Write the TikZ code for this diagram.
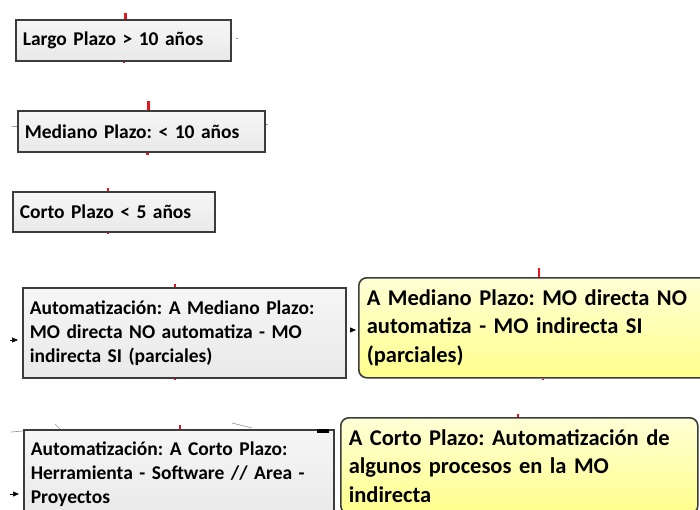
\documentclass[tikz,border=0pt]{standalone}
\usepackage{fontspec}
\setmainfont{Carlito}
\frenchspacing
\usetikzlibrary{arrows.meta}
\definecolor{boxline}{HTML}{3C3C3C}
\definecolor{grayfill}{HTML}{E9E9E9}
\definecolor{graytop}{HTML}{F6F6F6}
\definecolor{ytop}{HTML}{FFFFD6}
\definecolor{ybot}{HTML}{FFFF8C}
\definecolor{stubred}{HTML}{E8141C}
\tikzset{
  graybox/.style={draw=boxline, line width=1.6pt, top color=graytop, bottom color=grayfill,
    anchor=north west, align=left, inner xsep=7pt, inner ysep=0pt,
    font=\bfseries\fontsize{19.5}{24}\selectfont},
  yellowbox/.style={draw=boxline, line width=1.6pt, rounded corners=8pt, top color=ytop, bottom color=ybot,
    anchor=north west, align=left, inner xsep=8pt, inner ysep=0pt,
    font=\bfseries\fontsize{22.5}{28.5}\selectfont},
  stub/.style={draw=stubred, line width=3pt},
  faint/.style={draw=gray!80, line width=0.7pt},
  tip/.style={-{Triangle[length=6pt,width=5pt]}, line width=0.6pt, draw=black}
}
\begin{document}
\begin{tikzpicture}[x=1pt,y=-1pt]
\path[use as bounding box] (0,0) rectangle (700,510);
\clip (0,0) rectangle (700,510);
% gray boxes
\node[graybox, minimum width=215pt, minimum height=41pt, text width=201pt] (b1) at (15,19) {Largo Plazo > 10 años};
\node[graybox, minimum width=247pt, minimum height=41pt, text width=233pt] (b2) at (17,110) {Mediano Plazo: < 10 años};
\node[graybox, minimum width=202pt, minimum height=40pt, text width=188pt] (b3) at (12,191) {Corto Plazo < 5 años};
\node[graybox, minimum width=323pt, minimum height=90pt, text width=309pt] (b4) at (22,287) {Automatización: A Mediano Plazo:\\MO directa NO automatiza - MO\\indirecta SI (parciales)};
\node[graybox, minimum width=310pt, minimum height=88pt, text width=296pt] (b5) at (23,429) {Automatización: A Corto Plazo:\\Herramienta - Software // Area -\\Proyectos};
% yellow boxes
\node[yellowbox, minimum width=360pt, minimum height=100pt, text width=344pt] (y1) at (358,277) {A Mediano Plazo: MO directa NO\\automatiza - MO indirecta SI\\(parciales)};
\node[yellowbox, minimum width=357pt, minimum height=96pt, text width=341pt] (y2) at (340,417) {A Corto Plazo: Automatización de\\algunos procesos en la MO\\indirecta};
% connector stubs (red)
\coordinate (s1) at (125,13);
\coordinate (s2) at (124,62);
\coordinate (s3) at (148,101);
\coordinate (s4) at (147,155);
\coordinate (s5) at (108,188);
\coordinate (s6) at (108,234);
\coordinate (s7) at (175,284);
\coordinate (s8) at (175,380);
\coordinate (s9) at (539,268);
\coordinate (s10) at (543,380);
\coordinate (s11) at (180,425);
\coordinate (s12) at (518,414);
\draw[stub] (s1) -- (s1 |- b1.north);
\draw[stub, line width=2pt] (s2) -- (s2 |- b1.south);
\draw[stub] (s3) -- (s3 |- b2.north);
\draw[stub] (s4) -- (s4 |- b2.south);
\draw[stub, line width=1.5pt] (s5) -- (s5 |- b3.north);
\draw[stub, line width=2pt] (s6) -- (s6 |- b3.south);
\draw[stub, line width=2pt] (s7) -- (s7 |- b4.north);
\draw[stub, line width=2pt] (s8) -- (s8 |- b4.south);
\draw[stub, line width=2.5pt] (s9) -- (s9 |- y1.north);
\draw[stub, line width=2pt] (s10) -- (s10 |- y1.south);
\draw[stub, line width=2pt] (s11) -- (s11 |- b5.north);
\draw[stub, line width=2pt] (s12) -- (s12 |- y2.north);
% small black arrow ends
\coordinate (a1) at (10,340);
\coordinate (a2) at (10,494);
\coordinate (a3) at (351,330);
\draw[tip] (a1) -- ([xshift=-4pt]b4.west |- a1);
\draw[tip] (a2) -- ([xshift=-4pt]b5.west |- a2);
\draw[tip] (a3) -- ([xshift=-2pt]y1.west |- a3);
% faint connector traces
\coordinate (f1) at (11,432);
\coordinate (f2) at (55,424);
\coordinate (f3) at (232,423);
\coordinate (f4) at (236,38);
\coordinate (f5) at (12,126);
\coordinate (f6) at (268,124);
\draw[faint] (f1) -- ([yshift=-2pt]b5.north west);
\draw[faint] (f2) -- (60,429);
\draw[faint] (f3) -- (252,428);
\draw[faint] (f4) -- ++(2,0);
\draw[faint] (f5) -- (b2.west |- f5);
\draw[faint] (f6) -- (b2.east |- f6);
\fill[black] ([xshift=-18pt,yshift=-4pt]b5.north east) rectangle ([xshift=-6pt,yshift=0pt]b5.north east);
\end{tikzpicture}
\end{document}
